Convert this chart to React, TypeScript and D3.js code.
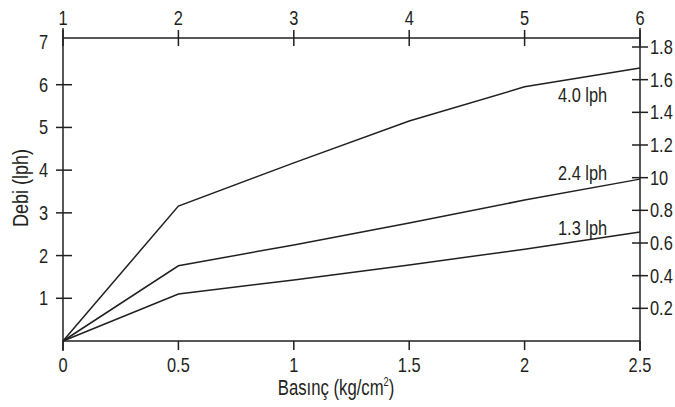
import React from "react";
import * as d3 from "d3";

const pressure = [0, 0.5, 1, 1.5, 2, 2.5];
const flow40 = [0, 3.16, 4.17, 5.15, 5.95, 6.39];
const flow24 = [0, 1.76, 2.25, 2.76, 3.3, 3.79];
const flow13 = [0, 1.1, 1.43, 1.78, 2.15, 2.55];
const seriesLabels = ["4.0 lph", "2.4 lph", "1.3 lph"];
const bottomTicks = [0, 0.5, 1, 1.5, 2, 2.5];
const bottomTickLabels = ["0", "0.5", "1", "1.5", "2", "2.5"];
const topTicks = [1, 2, 3, 4, 5, 6];
const leftTicks = [1, 2, 3, 4, 5, 6, 7];
const rightTicks = [0.2, 0.4, 0.6, 0.8, 1.0, 1.2, 1.4, 1.6, 1.8];
const rightTickLabels = ["0.2", "0.4", "0.6", "0.8", "10", "1.2", "1.4", "1.6", "1.8"];

const FONT = "'Liberation Sans', Arial, Helvetica, sans-serif";
const INK = "#231f20";
const SX = 0.82;

function NText(props: { x: number; y: number; anchor?: string; size?: number; sx?: number; children: React.ReactNode }) {
  const { x, y, anchor = "start", size = 20, sx = SX, children } = props;
  return (
    <text transform={`translate(${x},${y}) scale(${sx},1)`} textAnchor={anchor} fontSize={size} fill={INK}>
      {children}
    </text>
  );
}

export default function App() {
  const W = 675, H = 407;
  const x = d3.scaleLinear().domain([0, 2.5]).range([63, 640]);
  const xTop = d3.scaleLinear().domain([1, 6]).range([63, 640]);
  const y = d3.scaleLinear().domain([0, 7]).range([341, 42]);
  const yR = d3.scaleLinear().domain([0, 1.8]).range([341, 47]);
  const line = d3.line<[number, number]>().x(d => x(d[0])).y(d => y(d[1]));
  const series = [flow40, flow24, flow13];
  const labelY = [102, 180, 235];
  const sw = 1.5;
  return (
    <svg width={W} height={H} style={{ position: "absolute", left: 0, top: 0, background: "#fff" }} fontFamily={FONT}>
      <line x1={63} x2={63} y1={28} y2={351} stroke={INK} strokeWidth={sw} />
      <line x1={640} x2={640} y1={28} y2={351} stroke={INK} strokeWidth={sw} />
      <line x1={63} x2={640} y1={38} y2={38} stroke={INK} strokeWidth={sw} />
      <line x1={63} x2={640} y1={341} y2={341} stroke={INK} strokeWidth={sw} />
      {bottomTicks.map((t, i) => (
        <g key={"b" + i}>
          <line x1={x(t)} x2={x(t)} y1={341} y2={350} stroke={INK} strokeWidth={sw} />
          <NText x={x(t)} y={372} anchor="middle">{bottomTickLabels[i]}</NText>
        </g>
      ))}
      {topTicks.map((t, i) => (
        <g key={"t" + i}>
          <line x1={xTop(t)} x2={xTop(t)} y1={30} y2={46} stroke={INK} strokeWidth={sw} />
          <NText x={xTop(t)} y={25} anchor="middle">{String(t)}</NText>
        </g>
      ))}
      {leftTicks.map((t, i) => (
        <g key={"l" + i}>
          {t < 7 && <line x1={56} x2={72} y1={y(t)} y2={y(t)} stroke={INK} strokeWidth={sw} />}
          <NText x={48} y={y(t) + 7} anchor="end">{String(t)}</NText>
        </g>
      ))}
      {rightTicks.map((t, i) => (
        <g key={"r" + i}>
          <line x1={632} x2={648} y1={yR(t)} y2={yR(t)} stroke={INK} strokeWidth={sw} />
          <NText x={650} y={yR(t) + 7}>{rightTickLabels[i]}</NText>
        </g>
      ))}
      {series.map((s, i) => (
        <path key={"s" + i} d={line(pressure.map((p, j) => [p, s[j]] as [number, number])) || ""} fill="none" stroke={INK} strokeWidth={sw} />
      ))}
      {seriesLabels.map((l, i) => (
        <NText key={"sl" + i} x={558} y={labelY[i]}>{l}</NText>
      ))}
      <NText x={336} y={395} anchor="middle" size={22} sx={0.76}>
        Basınç (kg/cm<tspan fontSize={12} dy={-9}>2</tspan><tspan dy={9}>)</tspan>
      </NText>
      <text transform="translate(28,188) rotate(-90) scale(0.82,1)" textAnchor="middle" fontSize={22} fill={INK}>Debi (lph)</text>
    </svg>
  );
}
